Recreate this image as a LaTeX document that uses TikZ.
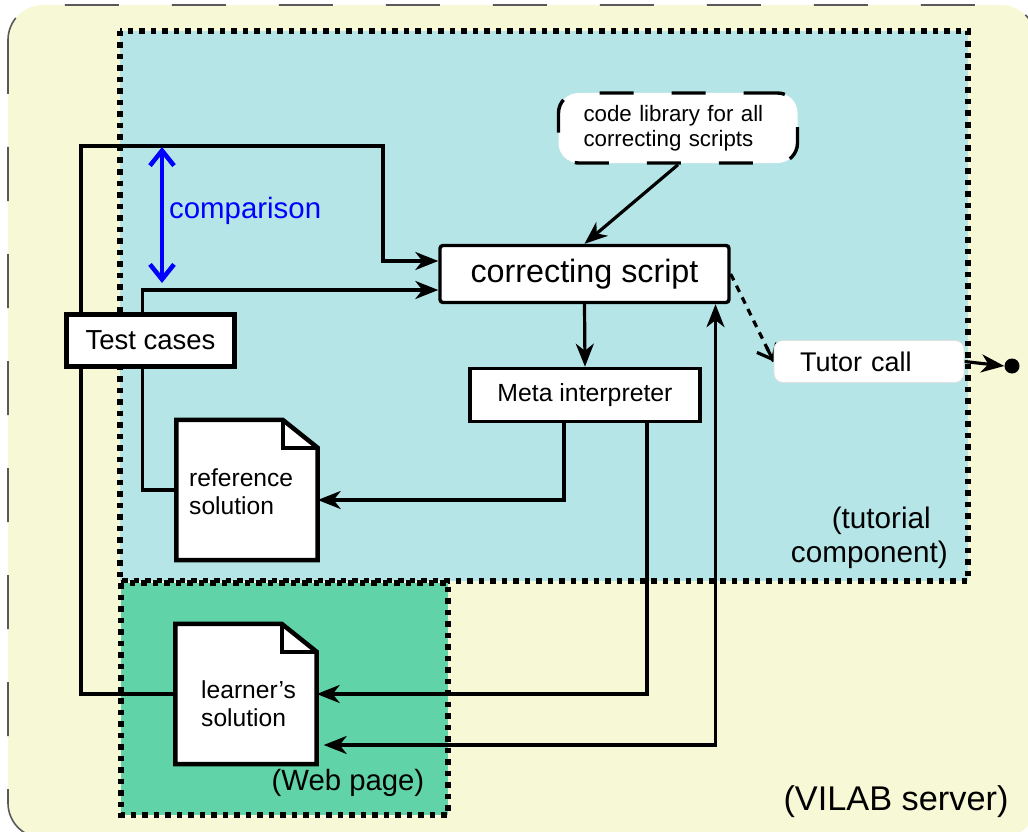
\documentclass[tikz,border=0pt]{standalone}
\usepackage{fontspec}
\setmainfont{Liberation Sans}
\usetikzlibrary{arrows.meta}
\pgfdeclarelayer{back}
\pgfdeclarelayer{lines}
\pgfdeclarelayer{docs}
\pgfsetlayers{back,lines,docs,main}
\definecolor{bgyellow}{RGB}{247,248,213}
\definecolor{tutcyan}{RGB}{181,229,231}
\definecolor{webgreen}{RGB}{96,211,168}
\newcommand{\drawdoc}[1]{%
  \begin{pgfonlayer}{docs}
  \filldraw[fill=white, line width=4.5pt, line join=miter]
    (#1.north west) -- ([xshift=-35pt]#1.north east) -- ([yshift=-28pt]#1.north east)
    -- (#1.south east) -- (#1.south west) -- cycle;
  \draw[line width=4pt] ([xshift=-35pt]#1.north east) |- ([yshift=-28pt]#1.north east);
  \end{pgfonlayer}}
\tikzset{
  conn/.style={line width=3.2pt, draw=black},
  arr/.style={-{Stealth[length=23pt,width=18pt,inset=7pt]}},
  darr/.style={{Stealth[length=23pt,width=18pt,inset=7pt]}-{Stealth[length=23pt,width=18pt,inset=7pt]}},
  box/.style={draw=black, fill=white, line width=3.4pt, inner sep=0pt},
  region/.style={draw=black, line width=5.5pt, dash pattern=on 5.5pt off 6pt},
}
\begin{document}
\begin{tikzpicture}[x=1pt,y=-1pt]
\useasboundingbox (0,0) rectangle (1028,832);
% regions
\begin{pgfonlayer}{back}
\filldraw[fill=bgyellow, draw=black!65, line width=1.6pt, rounded corners=35pt,
  dash pattern=on 54pt off 53pt] (8,5) rectangle (1036,838);
\filldraw[fill=tutcyan, region] (120,31) rectangle (968,581);
\filldraw[fill=webgreen, region] (121,583) rectangle (448,815);
\end{pgfonlayer}
% nodes
\node[box, minimum width=289pt, minimum height=57pt, rounded corners=3pt,
  font={\fontsize{32.3}{36}\selectfont}] (cs) at (584.5,274) {correcting script};
\node[box, dash pattern=on 34pt off 38pt, rounded corners=20pt, minimum width=239pt,
  minimum height=70pt, text width=189pt, inner xsep=25pt, align=left,
  font={\fontsize{22.3}{25}\selectfont}] (lib) at (678,128)
  {code library for all\\correcting scripts};
\node[box, line width=5pt, minimum width=168pt, minimum height=52pt,
  font={\fontsize{27.5}{30}\selectfont}] (tc) at (150.5,340) {Test cases};
\node[box, line width=3.6pt, minimum width=230pt, minimum height=53pt,
  font={\fontsize{24.8}{28}\selectfont}] (meta) at (585,395) {Meta interpreter};
\node[fill=white, draw=black!12, line width=0.8pt, rounded corners=9pt, minimum width=190pt,
  minimum height=42pt, text width=138pt, inner xsep=26pt, align=left,
  font={\fontsize{27}{31}\selectfont}] (tut) at (869,361.5) {Tutor call};
\node[circle, fill=black, inner sep=0pt, minimum size=15pt] (end) at (1012,366) {};
\node[inner sep=0pt, minimum width=141pt, minimum height=140pt] (rdoc) at (247,490) {};
\drawdoc{rdoc}
\node[inner sep=0pt, anchor=west, align=left, font={\fontsize{24.6}{28}\selectfont}]
  (rtxt) at (189,492) {reference\\solution};
\node[inner sep=0pt, minimum width=141pt, minimum height=140pt] (ldoc) at (246,694) {};
\drawdoc{ldoc}
\node[inner sep=0pt, anchor=west, align=left, font={\fontsize{24.6}{28}\selectfont}]
  (ltxt) at (201,704) {learner’s\\solution};
% labels
\node[inner sep=0pt, anchor=west, text=blue, font={\fontsize{29.4}{34}\selectfont}]
  (cmp) at (169,211) {comparison};
\node[inner sep=0pt, anchor=east, align=right, font={\fontsize{29.7}{34}\selectfont}]
  (tutlbl) at (948,538) {(tutorial\hspace*{17pt}\\component)};
\node[inner sep=0pt, font={\fontsize{29.3}{34}\selectfont}] (weblbl) at (348,783) {(Web page)};
\node[inner sep=0pt, font={\fontsize{34.3}{40}\selectfont}] (vilab) at (896,802) {(VILAB server)};
% connectors
\coordinate (cmptop) at (162,147);
\coordinate (cmpbot) at (162,283);
\begin{pgfonlayer}{lines}
\draw[conn, arr] (ldoc.west) -| (81,146) -| (383,261) -- ([yshift=13pt]cs.west);
\draw[conn, arr] ([xshift=-8pt]tc.north) |- ([yshift=-16pt]cs.west);
\draw[conn] ([xshift=-8pt]tc.south) |- (rdoc.west);
\draw[conn, arr] (lib.south) -- (cs.north);
\draw[conn, arr] (cs.south) -- (meta.north);
\draw[conn, arr] ([xshift=-21pt]meta.south) |- ([yshift=-10pt]rdoc.east);
\draw[conn, arr] ([xshift=62pt]meta.south) |- (ldoc.east);
\draw[conn, darr] ([xshift=7pt,yshift=-51pt]ldoc.east) -| ([xshift=131pt]cs.south);
\draw[conn, dash pattern=on 7pt off 6pt] (cs.east) -- (tut.west);
\draw[conn, shorten <=82pt, -{Straight Barb[length=13pt,width=22pt]}] (cs.east) -- (tut.west);
\draw[conn, arr] (tut.east) -- (end.west);
\draw[draw=blue, line width=4.5pt,
  {Straight Barb[length=15pt,width=24pt]}-{Straight Barb[length=15pt,width=24pt]}]
  (cmptop) -- (cmpbot);
\end{pgfonlayer}
\end{tikzpicture}
\end{document}
